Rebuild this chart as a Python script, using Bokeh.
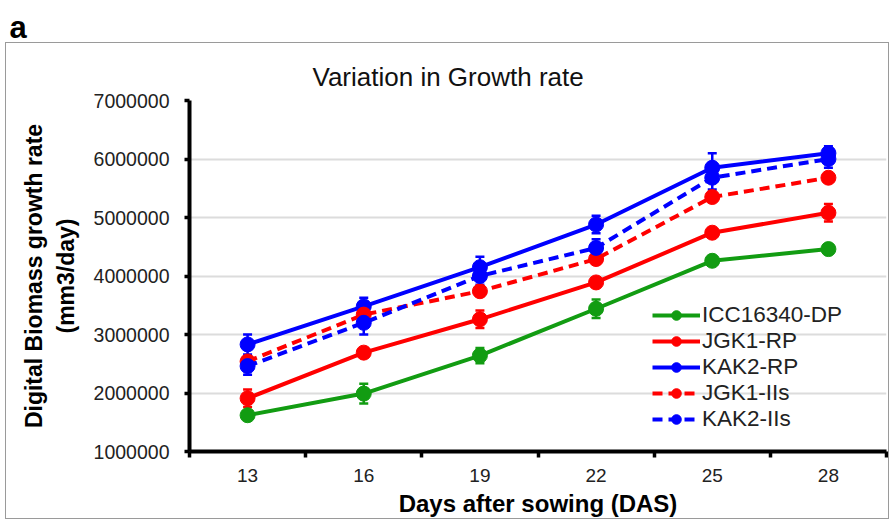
from bokeh.plotting import figure
from bokeh.models import (Range1d, FixedTicker, NumeralTickFormatter, Legend, LegendItem,
                          ColumnDataSource, Whisker, TeeHead, Title, InlineStyleSheet)
from bokeh.embed import file_html
from bokeh.resources import INLINE

# ---- data ----
days = ["13", "16", "19", "22", "25", "28"]
y_ticks = [1000000, 2000000, 3000000, 4000000, 5000000, 6000000, 7000000]

series_names = ["ICC16340-DP", "JGK1-RP", "KAK2-RP", "JGK1-IIs", "KAK2-IIs"]
icc16340_dp = [1620000, 1990000, 2640000, 3440000, 4260000, 4460000]
icc16340_dp_err = [60000, 170000, 130000, 160000, 50000, 50000]
jgk1_rp = [1910000, 2690000, 3260000, 3890000, 4740000, 5080000]
jgk1_rp_err = [150000, 70000, 150000, 60000, 70000, 150000]
kak2_rp = [2830000, 3480000, 4150000, 4880000, 5850000, 6100000]
kak2_rp_err = [170000, 150000, 180000, 150000, 250000, 120000]
jgk1_iis = [2540000, 3340000, 3740000, 4290000, 5350000, 5680000]
jgk1_iis_err = [80000, 80000, 80000, 70000, 60000, 60000]
kak2_iis = [2460000, 3200000, 4000000, 4480000, 5680000, 6000000]
kak2_iis_err = [150000, 200000, 150000, 150000, 200000, 150000]

series_values = [icc16340_dp, jgk1_rp, kak2_rp, jgk1_iis, kak2_iis]
series_errors = [icc16340_dp_err, jgk1_rp_err, kak2_rp_err, jgk1_iis_err, kak2_iis_err]
series_colors = ["#129c12", "#ff0000", "#0000ff", "#ff0000", "#0000ff"]
series_dash = ["solid", "solid", "solid", "10 6", "10 6"]

FONT = "Liberation Sans"

# category centres on a numeric axis so that boundary ticks can be drawn
xpos = [i + 0.5 for i in range(len(days))]

box_css = InlineStyleSheet(css="""
:host { position: relative; }
:host::after {
  content: "";
  position: absolute;
  left: 5px; top: 42px; width: 882px; height: 475px;
  border: 1.5px solid #9a9a9a;
  pointer-events: none;
}
""")

p = figure(width=893, height=521, output_backend="svg", toolbar_location=None,
           x_range=Range1d(0, len(days)), y_range=Range1d(y_ticks[0], y_ticks[-1]),
           min_border_left=189, min_border_right=7, min_border_top=100, min_border_bottom=70,
           stylesheets=[box_css])
p.outline_line_color = None
p.background_fill_color = "white"
p.border_fill_color = "white"

# axes
p.xaxis.ticker = FixedTicker(ticks=xpos, minor_ticks=list(range(len(days) + 1)))
p.xaxis.major_label_overrides = {x: d for x, d in zip(xpos, days)}
p.xaxis.major_tick_out = 0
p.xaxis.major_tick_in = 0
p.xaxis.minor_tick_out = 6
p.xaxis.minor_tick_in = 0
p.xaxis.minor_tick_line_width = 3.5
p.xaxis.minor_tick_line_color = "black"
p.xaxis.axis_line_width = 4
p.xaxis.axis_line_color = "black"
p.xaxis.major_label_text_font = FONT
p.xaxis.major_label_text_font_size = "19px"
p.xaxis.major_label_text_color = "#222222"
p.xaxis.major_label_standoff = 11
p.xaxis.axis_label = "Days after sowing (DAS)"
p.xaxis.axis_label_text_font = FONT
p.xaxis.axis_label_text_font_size = "24px"
p.xaxis.axis_label_text_font_style = "bold"
p.xaxis.axis_label_text_color = "black"
p.xaxis.axis_label_standoff = 5

p.yaxis.ticker = FixedTicker(ticks=y_ticks, minor_ticks=[])
p.yaxis.formatter = NumeralTickFormatter(format="0")
p.yaxis.major_tick_out = 5
p.yaxis.major_tick_in = 0
p.yaxis.major_tick_line_width = 3.5
p.yaxis.minor_tick_out = 0
p.yaxis.minor_tick_in = 0
p.yaxis.axis_line_width = 4
p.yaxis.axis_line_color = "black"
p.yaxis.major_label_text_font = FONT
p.yaxis.major_label_text_font_size = "19.5px"
p.yaxis.major_label_text_color = "#222222"
p.yaxis.major_label_standoff = 15
p.yaxis.axis_label = "Digital Biomass growth rate\n(mm3/day)"
p.yaxis.axis_label_text_font = FONT
p.yaxis.axis_label_text_font_size = "23px"
p.yaxis.axis_label_text_font_style = "bold"
p.yaxis.axis_label_text_color = "black"
p.yaxis.axis_label_standoff = 12

p.xgrid.grid_line_color = None
p.ygrid.grid_line_color = "#dcdcdc"
p.ygrid.grid_line_width = 2

# series
items = []
for name, vals, errs, col, dash in zip(series_names, series_values, series_errors,
                                       series_colors, series_dash):
    src = ColumnDataSource(dict(x=xpos, y=vals,
                                lo=[v - e for v, e in zip(vals, errs)],
                                hi=[v + e for v, e in zip(vals, errs)]))
    w = Whisker(source=src, base="x", lower="lo", upper="hi", line_color=col, line_width=2.5,
                upper_head=TeeHead(size=9, line_color=col, line_width=2.5),
                lower_head=TeeHead(size=9, line_color=col, line_width=2.5))
    p.add_layout(w)
    r1 = p.line("x", "y", source=src, line_color=col, line_width=4, line_dash=dash)
    r2 = p.scatter("x", "y", source=src, marker="circle", size=15, fill_color=col,
                   line_color=col)
    items.append(LegendItem(label=name, renderers=[r1, r2]))

legend = Legend(items=items, location=(463, 19), orientation="vertical",
                background_fill_alpha=0, border_line_color=None,
                padding=0, margin=0, spacing=0,
                glyph_width=48, glyph_height=24, label_height=24, label_standoff=2,
                label_text_font=FONT, label_text_font_size="22.5px", label_text_line_height=1.0,
                label_text_color="#222222")
p.add_layout(legend)

# titles (first added sits closest to the plot area)
p.add_layout(Title(text="Variation in Growth rate", align="left", offset=123,
                   text_font=FONT, text_font_size="26px", text_font_style="normal",
                   text_color="#111111", standoff=17), "above")
p.add_layout(Title(text="a", align="left", offset=-180, vertical_align="top",
                   text_font=FONT, text_font_size="31px", text_font_style="bold",
                   text_color="black", standoff=10), "above")

open("out.html", "w").write(file_html(p, INLINE))
